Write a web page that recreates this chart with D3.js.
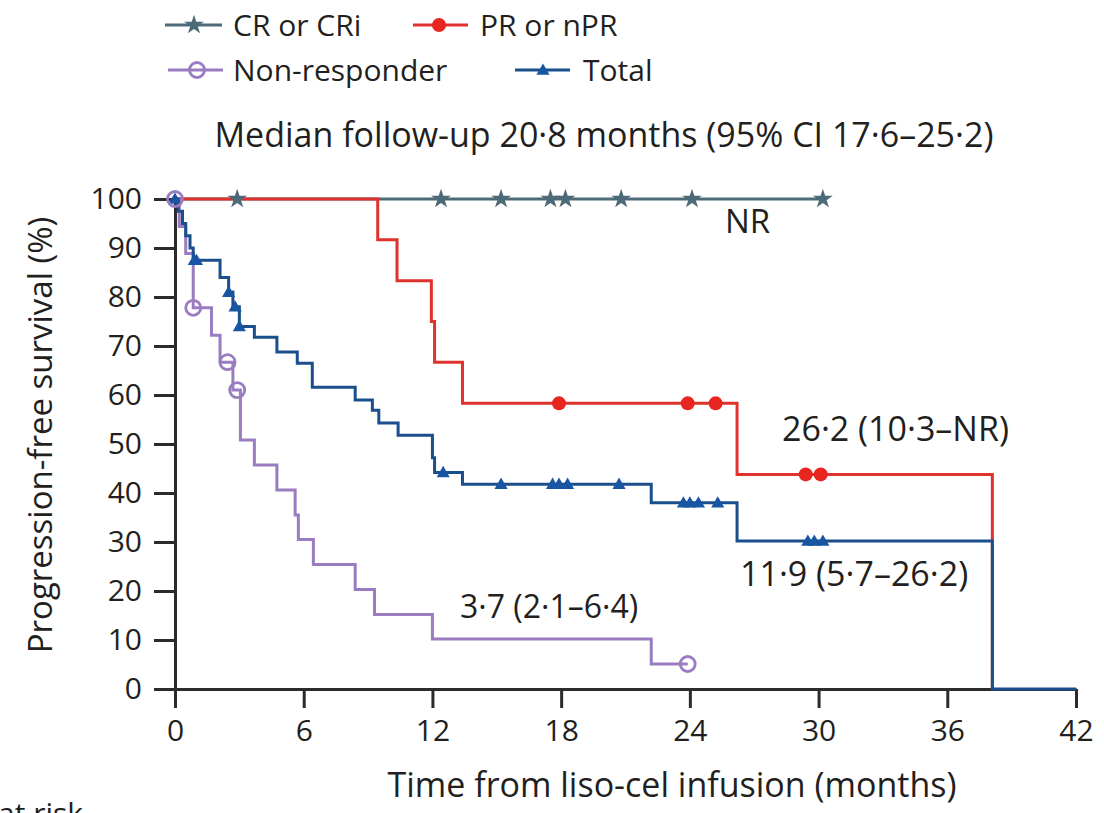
<!DOCTYPE html>
<html>
<head>
<meta charset="utf-8">
<script src="https://cdn.jsdelivr.net/npm/d3@7"></script>
<style>
  body { margin: 0; background: #fff; }
  svg { display: block; }
  text { font-family: "Open Sans", sans-serif; fill: #231f20; }
</style>
</head>
<body>
<svg id="chart" width="1104" height="813"></svg>
<script>
// Kaplan-Meier curves (months, %)
const crTimes = [0];
const crSurv = [100];
const crEnd = 30.3;
const crCensor = [2.9, 12.4, 15.2, 17.5, 18.2, 20.8, 24.1, 30.2];

const prTimes = [0, 9.45, 10.35, 11.95, 12.1, 13.4, 26.2, 38.1];
const prSurv = [100, 91.7, 83.3, 75.0, 66.7, 58.3, 43.8, 0];
const prEnd = 38.1;
const prCensor = [17.9, 23.9, 25.2, 29.4, 30.1];

const nonTimes = [0, 0.2, 0.5, 0.85, 1.7, 2.1, 2.7, 3.05, 3.7, 4.75, 5.6, 5.75, 6.45, 8.4, 9.3, 12.0, 22.2];
const nonSurv = [100, 94.4, 88.9, 77.8, 72.2, 66.7, 61.0, 50.8, 45.7, 40.6, 35.5, 30.5, 25.4, 20.3, 15.2, 10.2, 5.1];
const nonEnd = 23.9;
const nonCensor = [0, 0.85, 2.45, 2.9, 23.9];

const totTimes = [0, 0.15, 0.35, 0.5, 0.7, 0.85, 2.1, 2.5, 2.7, 3.0, 3.7, 4.75, 5.7, 6.4, 8.4, 9.2, 9.5, 10.4, 12.0, 12.1, 13.4, 22.2, 26.2, 38.1];
const totSurv = [100, 97.5, 95.0, 92.5, 90.0, 87.5, 84.0, 81.0, 78.0, 74.0, 71.8, 68.8, 66.5, 61.6, 59.0, 56.9, 54.3, 51.8, 47.2, 44.2, 41.8, 38.0, 30.2, 0];
const totEnd = 42;
const totCensor = [0, 0.9, 1.0, 2.5, 2.8, 3.0, 12.5, 15.2, 17.6, 17.9, 18.3, 20.7, 23.7, 24.0, 24.4, 25.3, 29.5, 29.8, 30.2];

const xTicks = [0, 6, 12, 18, 24, 30, 36, 42];
const yTicks = [0, 10, 20, 30, 40, 50, 60, 70, 80, 90, 100];

const svg = d3.select('#chart');
const x = d3.scaleLinear().domain([0, 42]).range([175, 1076]);
const y = d3.scaleLinear().domain([0, 100]).range([689, 199]);

const axisColor = '#2b2b2b';

// axes
const yAxis = svg.append('g').attr('transform', 'translate(175,0)')
  .call(d3.axisLeft(y).tickValues(yTicks).tickSize(21).tickSizeOuter(0).tickPadding(12));
const xAxis = svg.append('g').attr('transform', 'translate(0,689)')
  .call(d3.axisBottom(x).tickValues(xTicks).tickSize(19).tickSizeOuter(0).tickPadding(12));
[yAxis, xAxis].forEach(g => {
  g.selectAll('path, line').attr('stroke', axisColor).attr('stroke-width', 3);
  g.selectAll('text').style('font-size', '30px').attr('fill', '#231f20');
});

svg.append('text').attr('x', 672).attr('y', 797).attr('text-anchor', 'middle')
  .style('font-size', '34px').text('Time from liso-cel infusion (months)');
svg.append('text').attr('transform', 'translate(52,435) rotate(-90)').attr('text-anchor', 'middle')
  .style('font-size', '33px').text('Progression-free survival (%)');
svg.append('text').attr('x', -2).attr('y', 824).style('font-size', '30px').text('at risk');

// curves
const series = [
  { name: 'CR or CRi', times: crTimes, surv: crSurv, end: crEnd, censor: crCensor, color: '#4d6a78', mark: 'star' },
  { name: 'PR or nPR', times: prTimes, surv: prSurv, end: prEnd, censor: prCensor, color: '#e0322c', mark: 'dot' },
  { name: 'Non-responder', times: nonTimes, surv: nonSurv, end: nonEnd, censor: nonCensor, color: '#9a7cc0', mark: 'ring' },
  { name: 'Total', times: totTimes, surv: totSurv, end: totEnd, censor: totCensor, color: '#1a4f8c', mark: 'tri' }
];

const line = d3.line().curve(d3.curveStepAfter).x(d => x(d[0])).y(d => y(d[1]));

function survAt(s, t) {
  let v = s.surv[0];
  s.times.forEach((tt, i) => { if (tt <= t) v = s.surv[i]; });
  return v;
}

function drawMark(g, kind, color, cx, cy) {
  if (kind === 'star') {
    g.append('path').attr('d', d3.symbol(d3.symbolStar, 120)())
      .attr('transform', `translate(${cx},${cy})`).attr('fill', color);
  } else if (kind === 'dot') {
    g.append('circle').attr('cx', cx).attr('cy', cy).attr('r', 7).attr('fill', '#e8251f');
  } else if (kind === 'ring') {
    g.append('circle').attr('cx', cx).attr('cy', cy).attr('r', 7.5)
      .attr('fill', 'none').attr('stroke', color).attr('stroke-width', 2.8);
  } else {
    g.append('path').attr('d', d3.symbol(d3.symbolTriangle, 75)())
      .attr('transform', `translate(${cx},${cy + 1})`).attr('fill', '#1856a3');
  }
}

function stepPoints(s) {
  const pts = s.times.map((t, k) => [t, s.surv[k]]);
  pts.push([s.end, s.surv[s.surv.length - 1]]);
  return pts;
}

const curves = svg.append('g');
// CR, PR, non-responder, then total over the non-responder staircase
[0, 1, 2, 3].forEach(i => {
  const s = series[i];
  curves.append('path').attr('d', line(stepPoints(s))).attr('fill', 'none')
    .attr('stroke', s.color).attr('stroke-width', 3);
});
const marks = svg.append('g');
[0, 1, 3, 2].forEach(i => {
  const s = series[i];
  s.censor.forEach(t => drawMark(marks, s.mark, s.color, x(t), y(survAt(s, t))));
});

// curve labels
const labels = [
  { text: 'NR', x: 725, y: 233, size: 33 },
  { text: '26·2 (10·3–NR)', x: 782, y: 441, size: 34 },
  { text: '11·9 (5·7–26·2)', x: 740, y: 586, size: 34 },
  { text: '3·7 (2·1–6·4)', x: 460, y: 618, size: 32 }
];
svg.append('g').selectAll('text').data(labels).join('text')
  .attr('x', d => d.x).attr('y', d => d.y).style('font-size', d => d.size + 'px').text(d => d.text);

// legend
const legendPos = [
  { lx1: 165, lx2: 222, mx: 194, y: 25, tx: 233 },
  { lx1: 413, lx2: 468, mx: 439, y: 25, tx: 480 },
  { lx1: 168, lx2: 223, mx: 197, y: 70, tx: 233 },
  { lx1: 515, lx2: 570, mx: 543, y: 70, tx: 583 }
];
const legend = svg.append('g');
series.forEach((s, i) => {
  const p = legendPos[i];
  legend.append('line').attr('x1', p.lx1).attr('x2', p.lx2).attr('y1', p.y).attr('y2', p.y)
    .attr('stroke', s.color).attr('stroke-width', 3);
  drawMark(legend, s.mark, s.color, p.mx, p.y);
  legend.append('text').attr('x', p.tx).attr('y', p.y + 11).style('font-size', '30px').text(s.name);
});
svg.append('text').attr('x', 604).attr('y', 147).attr('text-anchor', 'middle')
  .style('font-size', '34px').text('Median follow-up 20·8 months (95% CI 17·6–25·2)');
</script>
</body>
</html>
